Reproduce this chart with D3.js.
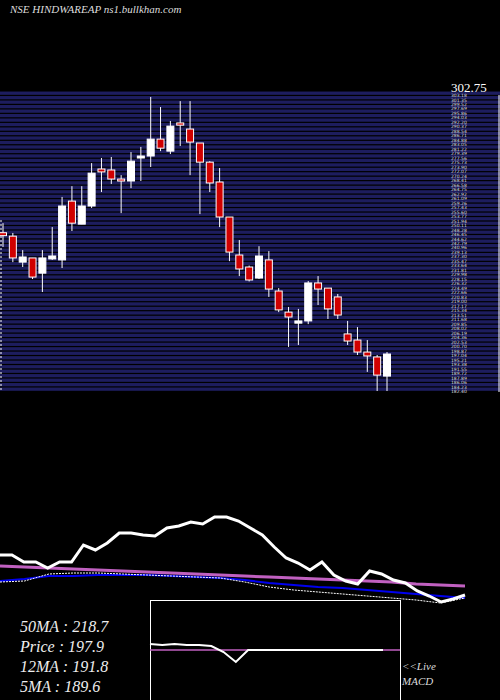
<!DOCTYPE html>
<html><head><meta charset="utf-8">
<script src="https://cdn.jsdelivr.net/npm/d3@7/dist/d3.min.js"></script>
<style>body{margin:0;background:#000}</style></head>
<body><div id="chart"></div>
<script>
// candles: open, high, low, close
const opens  = [247.4,246.0,235.4,237.1,230.9,236.7,236.3,260.3,250.9,258.3,273.4,273.0,269.3,268.5,277.9,278.7,285.6,280.7,292.2,289.7,284.0,276.2,268.1,253.8,238.3,233.4,228.9,236.3,223.6,215.0,210.5,211.4,226.9,224.8,221.2,206.1,203.6,198.7,196.7,188.9];
const highs  = [251.3,247.3,240.3,237.1,240.3,249.7,262.0,266.4,266.4,275.8,277.9,278.3,270.9,280.3,282.4,302.8,298.7,293.0,301.1,301.1,284.0,276.6,273.8,253.8,244.4,234.0,241.9,239.9,224.8,217.1,216.3,227.7,229.7,224.8,222.4,211.4,208.9,203.6,197.5,198.7];
const lows   = [241.6,235.4,233.4,228.5,223.2,236.3,233.0,248.1,250.9,257.5,264.0,267.3,255.4,265.6,268.5,274.2,280.7,279.5,282.8,270.9,255.0,264.0,249.7,235.8,229.7,227.5,228.5,221.2,215.0,200.8,201.6,210.1,217.9,212.2,212.2,201.6,197.5,190.6,182.8,182.8];
const closes = [246.2,237.1,237.5,229.3,237.1,237.9,258.3,251.3,258.3,271.7,272.2,269.3,268.5,276.6,278.7,285.6,281.9,290.9,291.3,284.4,276.2,267.7,253.8,239.5,232.6,228.1,237.9,224.4,215.9,213.0,211.4,226.9,224.4,216.3,213.8,203.2,198.7,197.1,189.3,197.9];

// lower panel lines (read as pixel rows of the original)
const priceLine = [555,555,562,562,568,562,562,545,550,543,533,533,535,536,528,526,522,524,517,517,521,528,535,547,558,563,570,562,575,581,584,571,574,580,583,591,596,602,599,595];
const ma50Line  = [566,567,568,569,570,571,572,573,574,575,576,577,578,579,580,581,582,584,585,586];
const ma12Line  = [581,579,576,576,575,575,575,576,577,578,580,583,585,587,588,590,592,594,596,598];
const ma5Line   = [582,581,574,573,573,574,575,576,577,578,582,587,590,592,594,596,598,600,603,598];
const macdLine  = [644,645,644,645,645,646,652,662,650,650,650,650,650,650,650,650,650,650,650,650];
const signalLine= [650,650,650,650,650,650,650,650,650,650,650,650,650,650,650,650,650,650,650,650];

const legend = ["50MA : 218.7","Price   : 197.9","12MA : 191.8","5MA : 189.6"];
const topLabel = "302.75";

const W = 500, H = 700;
const svg = d3.select("#chart").append("svg").attr("width", W).attr("height", H)
  .style("background", "#000");

const y = d3.scaleLinear().domain([182.4, 303.6]).range([392, 95]);
const x = d3.scaleLinear().domain([0, opens.length - 1]).range([3, 387]);

// striped background bands
const bandTicks = d3.range(182.4, 303.6, 1.83);
svg.append("g").selectAll("rect").data(bandTicks).join("rect")
  .attr("x", 0).attr("width", 500)
  .attr("y", d => y(d + 1.83)).attr("height", d => y(d) - y(d + 1.83) - 1.2)
  .attr("fill", "#1d1d5e");

// price labels (packed tight, as in the original)
svg.append("g").selectAll("text").data(bandTicks).join("text")
  .attr("x", 451).attr("y", d => y(d) + 1)
  .text(d => d.toFixed(2))
  .attr("fill", "#ddd").attr("font-family", "DejaVu Sans").attr("font-size", 4.5);
svg.append("text").attr("x", 451).attr("y", 92).text(topLabel)
  .attr("fill", "#fff").attr("font-family", "Liberation Serif").attr("font-size", 13);

svg.append("line").attr("x1", 1).attr("x2", 1).attr("y1", 220).attr("y2", 392)
  .attr("stroke", "#fff").attr("stroke-dasharray", "2,2");
svg.append("line").attr("x1", 499).attr("x2", 499).attr("y1", 95).attr("y2", 392)
  .attr("stroke", "#fff");

// candles
const c = svg.append("g").selectAll("g").data(opens.map((o, i) => ({o, h: highs[i], l: lows[i], c: closes[i], i})))
  .join("g");
c.append("line").attr("x1", d => x(d.i)).attr("x2", d => x(d.i))
  .attr("y1", d => y(d.h)).attr("y2", d => y(d.l)).attr("stroke", "#fff").attr("stroke-width", 1);
c.append("rect")
  .attr("x", d => x(d.i) - 3.5).attr("width", 7)
  .attr("y", d => y(Math.max(d.o, d.c)))
  .attr("height", d => Math.max(2, Math.abs(y(d.o) - y(d.c))))
  .attr("fill", d => d.c < d.o ? "#d00000" : "#fff")
  .attr("stroke", "#fff").attr("stroke-width", 1);

// lower panel
function drawLine(arr, color, width, dash, x0, x1) {
  const sx = d3.scaleLinear().domain([0, arr.length - 1]).range([x0, x1]);
  svg.append("path").datum(arr)
    .attr("d", d3.line().x((d, i) => sx(i)).y(d => d))
    .attr("fill", "none").attr("stroke", color).attr("stroke-width", width)
    .attr("stroke-dasharray", dash);
}
drawLine(ma50Line, "#c060c0", 3, null, 0, 465);
drawLine(ma12Line, "#0000ee", 2, null, 0, 465);
drawLine(ma5Line, "#fff", 1, "2,1", 0, 465);
drawLine(priceLine, "#fff", 3, null, 0, 465);

// MACD box
svg.append("rect").attr("x", 150.5).attr("y", 600.5).attr("width", 250).attr("height", 110)
  .attr("fill", "none").attr("stroke", "#fff");
drawLine(signalLine, "#c060c0", 1.5, null, 150, 400);
drawLine(macdLine, "#fff", 2, null, 150, 383);

// texts
svg.append("text").attr("x", 10).attr("y", 13).text("NSE HINDWAREAP ns1.bullkhan.com")
  .attr("fill", "#ddd").attr("font-family", "Liberation Serif").attr("font-style", "italic").attr("font-size", 11);
svg.append("g").selectAll("text").data(legend).join("text")
  .attr("x", 20).attr("y", (d, i) => 632 + i * 20).text(d => d)
  .attr("fill", "#eee").attr("font-family", "Liberation Serif").attr("font-style", "italic").attr("font-size", 16);
svg.append("text").attr("x", 402).attr("y", 670).text("<<Live")
  .attr("fill", "#ddd").attr("font-family", "Liberation Serif").attr("font-style", "italic").attr("font-size", 11);
svg.append("text").attr("x", 402).attr("y", 685).text("MACD")
  .attr("fill", "#ddd").attr("font-family", "Liberation Serif").attr("font-style", "italic").attr("font-size", 11);
</script></body></html>
